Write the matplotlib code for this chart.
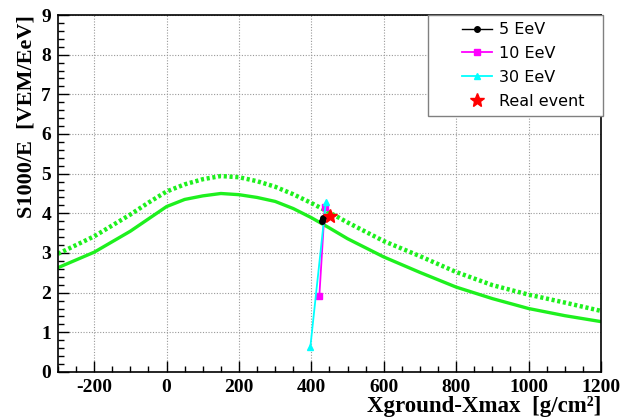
import numpy as np
import matplotlib
matplotlib.use("Agg")
import matplotlib.pyplot as plt
from matplotlib.ticker import MultipleLocator
from matplotlib.legend_handler import HandlerLine2D

plt.rcParams['axes.unicode_minus'] = False

# curves
x_curve = [-300, -200, -100, -50, 0, 50, 100, 150, 200, 250, 300, 350, 400,
           450, 500, 600, 700, 800, 900, 1000, 1100, 1200]
s_solid = [2.63, 3.02, 3.55, 3.86, 4.17, 4.35, 4.44, 4.50, 4.47, 4.40, 4.30,
           4.12, 3.89, 3.63, 3.36, 2.90, 2.51, 2.14, 1.85, 1.60, 1.42, 1.27]
s_dotted = [2.98, 3.42, 3.97, 4.27, 4.55, 4.73, 4.86, 4.94, 4.91, 4.81, 4.67,
            4.48, 4.26, 4.02, 3.77, 3.30, 2.92, 2.52, 2.19, 1.95, 1.75, 1.54]

# simulated points
x_5 = [430, 433]
y_5 = [3.80, 3.88]
x_10 = [422, 437]
y_10 = [1.92, 4.15]
x_30 = [397, 440]
y_30 = [0.62, 4.28]
x_real = [452]
y_real = [3.93]

green = '#1ef01e'
serif = 'Liberation Serif'

fig = plt.figure(figsize=(6.33, 4.19), dpi=100)
ax = fig.add_axes([0.0916, 0.1122, 0.8578, 0.852])

ax.plot(x_curve, s_solid, color=green, lw=2.4, zorder=2)
ax.plot(x_curve, s_dotted, color=green, lw=3.2, ls=(0, (0.7, 0.6)), zorder=2)

ax.plot(x_5, y_5, color='black', lw=1, marker='o', ms=4, label='5 EeV', zorder=4)
ax.plot(x_10, y_10, color='magenta', lw=1.3, marker='s', ms=5, label='10 EeV', zorder=3)
ax.plot(x_30, y_30, color='cyan', lw=1.3, marker='^', ms=5, label='30 EeV', zorder=3)
ax.plot(x_real, y_real, ls='none', color='red', marker='*', ms=10, label='Real event', zorder=5)

ax.set_xlim(-300, 1200)
ax.set_ylim(0, 9)
ax.xaxis.set_major_locator(MultipleLocator(200))
ax.xaxis.set_minor_locator(MultipleLocator(50))
ax.yaxis.set_major_locator(MultipleLocator(1))
ax.yaxis.set_minor_locator(MultipleLocator(0.2))
ax.tick_params(which='both', direction='in', top=False, right=False)
ax.tick_params(which='major', length=8, width=1)
ax.tick_params(which='minor', length=4, width=1)
ax.tick_params(axis='both', pad=5)
for lab in ax.get_xticklabels() + ax.get_yticklabels():
    lab.set_fontfamily(serif)
    lab.set_fontweight('bold')
    lab.set_fontsize(14)

ax.grid(True, which='major', color='#999999', ls=(0, (1, 1.5)), lw=0.8)
for sp in ax.spines.values():
    sp.set_linewidth(1.2)

ax.set_xlabel('Xground-Xmax  [g/cm\u00b2]', family=serif, fontweight='bold',
              fontsize=16.5, ha='right', va='top')
ax.xaxis.set_label_coords(1.0, -0.066)
ax.set_ylabel('S1000/E  [VEM/EeV]', family=serif, fontweight='bold',
              fontsize=16, loc='top', labelpad=3)

pad = HandlerLine2D(xpad=1.7)
leg = ax.legend(loc='upper left', bbox_to_anchor=(0.6814, 0.0, 0.3216, 1.0),
                mode='expand', borderaxespad=0,
                fancybox=False, framealpha=1, edgecolor='gray', prop={'size': 11.5},
                handlelength=3.56, labelspacing=0.55, borderpad=0.45, handletextpad=0.45,
                handler_map={matplotlib.lines.Line2D: pad})
leg.get_frame().set_linewidth(1.0)

plt.savefig('out.png', dpi=100)
